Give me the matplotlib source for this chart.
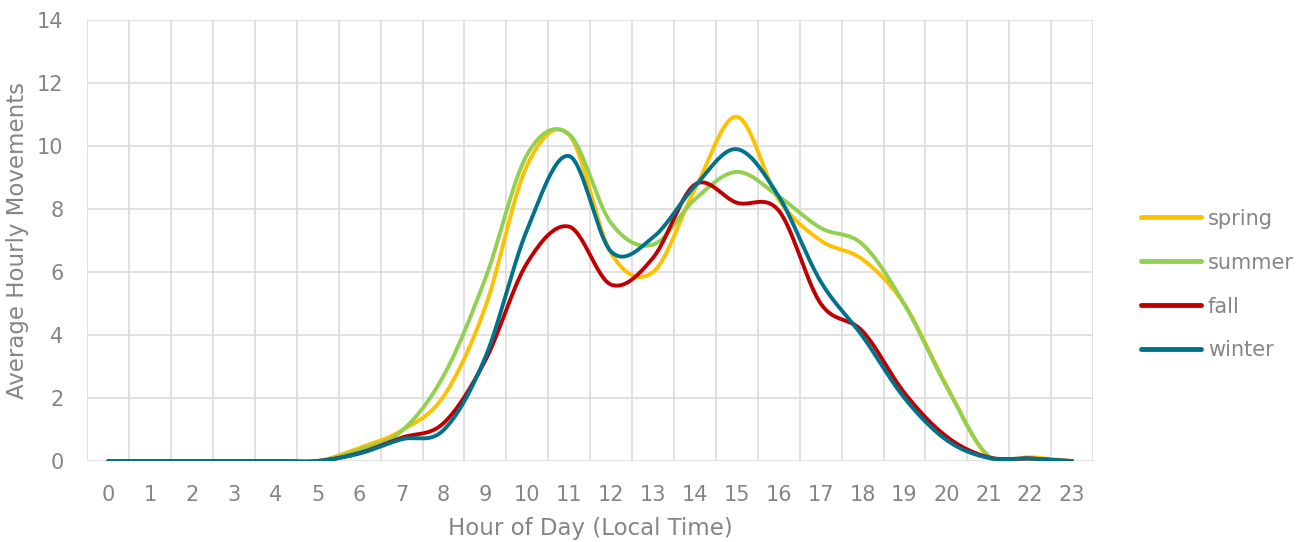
import numpy as np
import matplotlib.pyplot as plt

# hourly averages
hours = list(range(24))
spring = [0, 0, 0, 0, 0, 0, 0.42, 0.97, 2.05, 4.9, 9.4, 10.35, 6.6, 6.0,
          8.63, 10.93, 8.3, 7.0, 6.4, 4.97, 2.4, 0.15, 0.12, 0.0]
summer = [0, 0, 0, 0, 0, 0, 0.36, 0.95, 2.7, 5.8, 9.74, 10.37, 7.55, 6.87,
          8.31, 9.18, 8.4, 7.4, 6.88, 4.97, 2.37, 0.17, 0.08, 0.0]
fall = [0, 0, 0, 0, 0, 0, 0.26, 0.74, 1.2, 3.2, 6.3, 7.44, 5.6, 6.45,
        8.78, 8.2, 7.95, 5.0, 4.12, 2.16, 0.78, 0.12, 0.08, 0.0]
winter = [0, 0, 0, 0, 0, 0, 0.24, 0.69, 0.98, 3.3, 7.36, 9.68, 6.65, 7.1,
          8.73, 9.9, 8.4, 5.7, 3.96, 2.0, 0.67, 0.1, 0.08, 0.0]

series = [("spring", spring, "#FFC000"),
          ("summer", summer, "#92D050"),
          ("fall", fall, "#C00000"),
          ("winter", winter, "#00728A")]

gray = "#858585"
plt.rcParams['font.family'] = ['DejaVu Sans']


def smooth(x, y, n=30):
    # excel-like smoothed line (catmull-rom / cubic hermite)
    x = np.asarray(x, float)
    y = np.asarray(y, float)
    yp = np.concatenate([[y[0]], y, [y[-1]]])
    m = (yp[2:] - yp[:-2]) / 2
    xs, ys = [], []
    for i in range(len(x) - 1):
        t = np.linspace(0, 1, n, endpoint=False)
        h00 = 2*t**3 - 3*t**2 + 1
        h10 = t**3 - 2*t**2 + t
        h01 = -2*t**3 + 3*t**2
        h11 = t**3 - t**2
        xs.append(x[i] + t * (x[i+1] - x[i]))
        ys.append(h00*y[i] + h10*m[i] + h01*y[i+1] + h11*m[i+1])
    xs.append([x[-1]])
    ys.append([y[-1]])
    return np.concatenate(xs), np.concatenate(ys)


fig = plt.figure(figsize=(13.08, 5.42), dpi=100)
ax = fig.add_axes([0.0667, 0.1494, 0.769, 0.8136])

for name, vals, col in series:
    sx, sy = smooth(hours, vals)
    ax.plot(sx, sy, color=col, linewidth=2.8, label=name,
            solid_capstyle='round')

ax.set_xlim(-0.5, 23.5)
ax.set_ylim(0, 14)
ax.set_xticks(hours)
ax.set_xticks(np.arange(-0.5, 24, 1), minor=True)
ax.set_yticks(range(0, 15, 2))
ax.grid(False)
ax.grid(which='minor', axis='x', color='#d9d9d9', linewidth=1.1)
ax.grid(which='major', axis='y', color='#d9d9d9', linewidth=1.1)
ax.set_axisbelow(True)
for s in ax.spines.values():
    s.set_visible(False)
ax.tick_params(which='both', length=0)
ax.tick_params(axis='x', pad=17, labelsize=15, labelcolor=gray)
ax.tick_params(axis='y', pad=17, labelsize=15, labelcolor=gray)

ax.set_xlabel('Hour of Day (Local Time)', fontsize=16.5, color=gray, labelpad=9)
ax.set_ylabel('Average Hourly Movements', fontsize=16.5, color=gray, labelpad=6)

leg = ax.legend(loc='center left', bbox_to_anchor=(0.858, 0.475),
                bbox_transform=fig.transFigure, frameon=False, fontsize=15,
                handlelength=2.9, handletextpad=0.3, labelspacing=1.15)
for t in leg.get_texts():
    t.set_color(gray)
for l in leg.get_lines():
    l.set_linewidth(3.5)

fig.savefig("out.png", dpi=100)
